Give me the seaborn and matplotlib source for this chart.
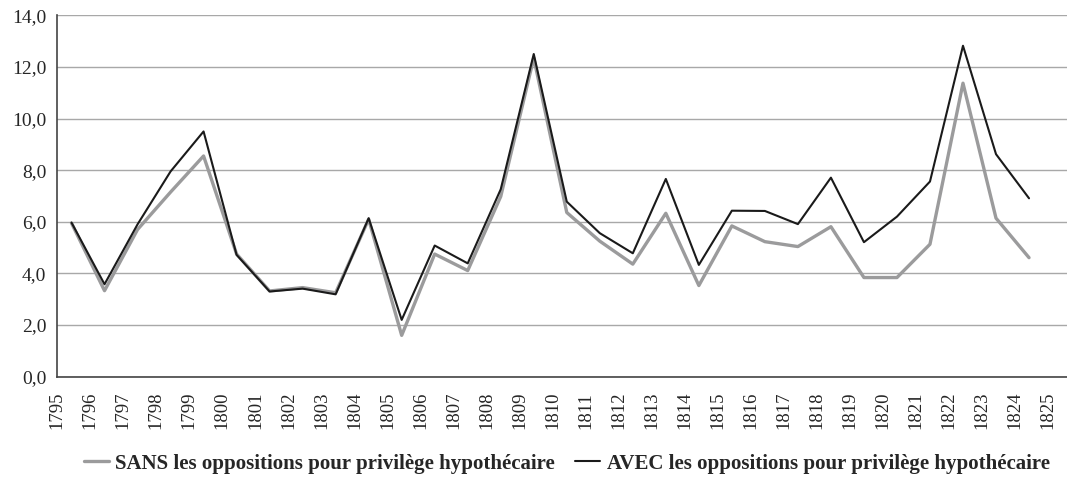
import numpy as np
import pandas as pd
import matplotlib
matplotlib.use("Agg")
import matplotlib.pyplot as plt
import seaborn as sns
from matplotlib.ticker import FuncFormatter, MultipleLocator
from matplotlib.lines import Line2D

# ===============================
# DATA
# ===============================
years = list(range(1795, 1825))
sans = [5.95, 3.33, 5.7, 7.15, 8.55, 4.75, 3.32, 3.45, 3.25, 6.1,
        1.6, 4.75, 4.11, 6.98, 12.35, 6.36, 5.25, 4.36, 6.33, 3.53,
        5.84, 5.23, 5.04, 5.81, 3.84, 3.84, 5.13, 11.37, 6.14, 4.61]
avec = [5.97, 3.58, 5.9, 7.95, 9.5, 4.72, 3.3, 3.41, 3.19, 6.14,
        2.2, 5.08, 4.39, 7.26, 12.5, 6.78, 5.56, 4.78, 7.66, 4.33,
        6.43, 6.42, 5.91, 7.71, 5.21, 6.2, 7.56, 12.82, 8.62, 6.91]
tick_years = list(range(1795, 1826))
lab_sans = "SANS les oppositions pour privilège hypothécaire"
lab_avec = "AVEC les oppositions pour privilège hypothécaire"

# points sit a bit after the year tick
OFFSET = 0.43

df = pd.concat([
    pd.DataFrame({"x": np.array(years) + OFFSET, "val": sans, "serie": lab_sans}),
    pd.DataFrame({"x": np.array(years) + OFFSET, "val": avec, "serie": lab_avec}),
], ignore_index=True)

# ===============================
# PLOT
# ===============================
sns.set_style("white")
plt.rcParams["font.family"] = ["Liberation Serif", "DejaVu Serif"]

fig = plt.figure(figsize=(10.67, 4.78), dpi=100)
ax = fig.add_axes([0.0537, 0.212, 0.9463, 0.756])

sns.lineplot(data=df, x="x", y="val", hue="serie", size="serie",
             palette={lab_sans: "#9b9b9c", lab_avec: "#1a1a1a"},
             sizes={lab_sans: 2.4, lab_avec: 1.5},
             ax=ax, legend=False)

ax.set_xlim(1795, 1825.58)
ax.set_ylim(0, 14)
ax.set_xticks(tick_years)
ax.set_xticklabels([str(y) for y in tick_years], rotation=90, fontsize=13.5)
ax.yaxis.set_major_locator(MultipleLocator(2))
ax.yaxis.set_major_formatter(FuncFormatter(lambda v, p: f"{v:.1f}".replace(".", ",")))
ax.tick_params(axis="y", labelsize=14, length=4, width=1, color="#444444", direction="out", pad=4)
ax.tick_params(axis="x", length=7, width=1, color="#444444", direction="out", pad=4)
ax.set_xlabel("")
ax.set_ylabel("")

ax.grid(axis="y", color="#a8a8a8", linewidth=1)
ax.set_axisbelow(True)
for s in ["top", "right"]:
    ax.spines[s].set_visible(False)
for s in ["left", "bottom"]:
    ax.spines[s].set_color("#444444")
    ax.spines[s].set_linewidth(1.2)

# legend at the bottom, centred under the plot area
handles = [Line2D([], [], color="#9b9b9c", lw=2.4), Line2D([], [], color="#1a1a1a", lw=1.5)]
fig.legend(handles, [lab_sans, lab_avec], loc="center", bbox_to_anchor=(0.531, 0.03),
           ncol=2, frameon=False, handlelength=1.2, handletextpad=0.3, columnspacing=1.0,
           prop={"family": ["Liberation Serif"], "weight": "bold", "size": 15})

plt.savefig("out.png", dpi=100)
